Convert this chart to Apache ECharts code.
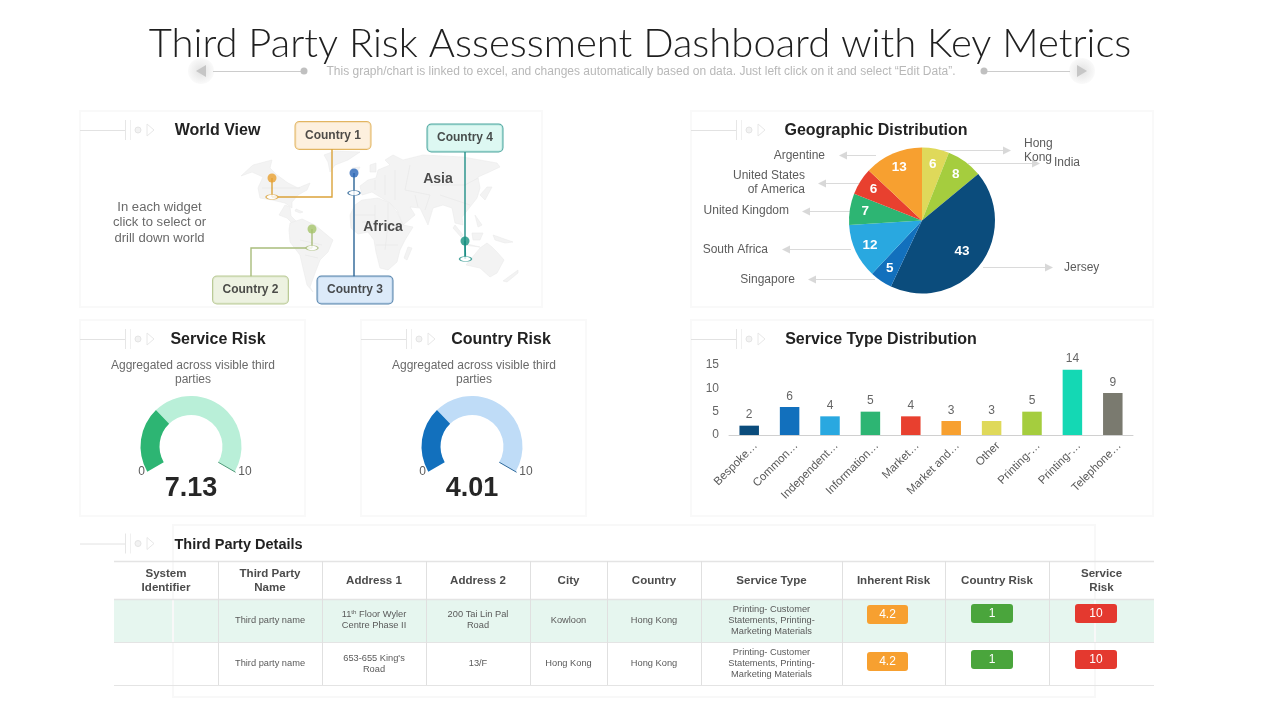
<!DOCTYPE html>
<html>
<head>
<meta charset="utf-8">
<style>html,body{margin:0;padding:0;background:#fff}#c{width:1280px;height:720px}</style>
<script src="https://cdn.jsdelivr.net/npm/echarts@6/dist/echarts.min.js"></script>
</head>
<body>
<div id="c"></div>
<script>
// ---------- DATA ----------
const pieNames = ['Hong Kong','India','Jersey','Singapore','South Africa','United Kingdom','United States of America','Argentine'];
const pieValues = [6,8,43,5,12,7,6,13];
const barCategories = ['Bespoke…','Common…','Independent…','Information…','Market…','Market and…','Other','Printing-…','Printing-…','Telephone…'];
const barValues = [2,6,4,5,4,3,3,5,14,9];
const gaugeNames = ['Service Risk','Country Risk'];
const gaugeValues = [7.13,4.01];
const gaugeFill = [0.317,0.317];
const tableHeaders = ['System\nIdentifier','Third Party\nName','Address 1','Address 2','City','Country','Service Type','Inherent Risk','Country Risk','Service\nRisk'];
const tableRow1 = ['','Third party name','11{s|th} Floor Wyler\nCentre Phase II','200 Tai Lin Pal\nRoad','Kowloon','Hong Kong','Printing- Customer\nStatements, Printing-\nMarketing Materials'];
const tableRow2 = ['','Third party name','653-655 King\'s\nRoad','13/F','Hong Kong','Hong Kong','Printing- Customer\nStatements, Printing-\nMarketing Materials'];
const inherentRisk = ['4.2','4.2'];
const countryRisk = ['1','1'];
const serviceRisk = ['10','10'];
const countryLabels = ['Country 1','Country 2','Country 3','Country 4'];
const regionLabels = ['Asia','Africa'];
// map outlines, in map units
const landOutlines = [
 [[241,176],[253,165],[272,160],[270,168],[277,175],[288,183],[298,188],[310,183],[307,190],[298,195],[292,202],[292,208],[285,203],[272,200],[260,198],[258,188],[263,177],[252,172]],
 [[285,205],[290,207],[291,216],[296,221],[293,224],[287,218],[279,215]],
 [[296,209],[303,212],[300,213],[295,211]],
 [[290,223],[302,219],[315,225],[333,240],[328,252],[320,260],[315,273],[310,287],[313,292],[307,285],[303,268],[300,255],[290,242],[289,230]],
 [[324,155],[335,151],[360,152],[348,160],[335,165],[330,172],[328,162]],
 [[352,168],[360,167],[358,171],[352,171]],
 [[370,165],[376,163],[376,172],[370,172]],
 [[403,160],[423,155],[463,157],[497,163],[500,167],[487,173],[478,177],[480,188],[477,198],[470,207],[462,217],[463,225],[455,223],[452,208],[443,205],[433,208],[428,225],[420,208],[410,207],[415,215],[403,225],[397,210],[390,203],[380,197],[372,192],[362,195],[360,186],[368,180],[376,178],[378,170],[390,165],[385,160],[393,155]],
 [[362,200],[378,198],[390,203],[397,212],[403,225],[413,227],[405,240],[400,250],[397,262],[388,270],[380,268],[376,252],[374,240],[368,232],[358,234],[351,228],[350,215],[355,205]],
 [[408,247],[412,248],[407,260],[404,258]],
 [[466,265],[480,248],[487,243],[492,247],[497,252],[504,260],[497,273],[490,277],[480,268]],
 [[503,281],[518,270],[518,273],[507,282]],
 [[455,225],[463,235],[461,237],[453,228]],
 [[472,233],[483,233],[480,240],[473,240]],
 [[493,235],[513,242],[505,243],[495,240]],
 [[475,215],[482,225],[478,227]],
 [[480,195],[487,187],[492,187],[485,200]],
 [[463,243],[480,247],[480,248],[463,245]]
];
const borderLines = [
 [[355,215],[375,215],[375,205]],[[375,215],[375,232]],[[375,225],[402,225]],[[388,203],[388,225],[385,250]],[[376,245],[398,245]],
 [[362,222],[375,222]],[[385,175],[385,195]],[[395,170],[395,200]],[[410,165],[405,190],[430,195],[425,210]],[[430,185],[465,185],[478,178]],
 [[440,195],[470,205]],[[375,180],[375,190]],[[415,195],[418,207]],[[300,240],[322,245]],[[305,255],[318,258]],[[262,188],[300,188]],[[445,170],[445,185]]
];
const pinHeads = [[272,178],[312,229],[354,173],[465,241]];
const pinBases = [[272,197],[312,248],[354,193],[465.5,259]];
const boxCentres = [[333,135.5],[250.5,290],[355,290],[465,138]];
const connectors = [
 [[332,149],[332,197],[272,197]],
 [[251,277],[251,248],[312,248]],
 [[354,193],[354,277]],
 [[465,152],[465,259]]
];
const regionPoints = [[438,179],[383,227]];

// ---------- STYLE ----------
const FONT = '"Liberation Sans", Arial, sans-serif';
const pieColors = ['#dfd95a','#a5cd3e','#0b4c7c','#1270bd','#29a8e0','#2db573','#e8402f','#f7a030'];
const barColors = ['#0b4c7c','#1270bd','#29a8e0','#2db573','#e8402f','#f7a030','#dfd95a','#a5cd3e','#14d8b4','#7a7a6f'];
const pinColors = ['#e8a030','#a5c46a','#2a66b8','#17917f'];
const lineColors = ['#dba33a','#a9bd7c','#2a6496','#1f8f86'];
const boxFills = ['#fdecd6','#e9efd9','#d3e5f7','#d5f6ef'];
const gaugeDark = ['#2db573','#1270bd'];
const gaugeLight = ['#b9efd8','#bfdcf7'];
const gaugeEdge = ['#4f9a78','#2f6a9c'];
const gaugeCx = [191,472], gaugeCy = 446.5, gaugeR = 50.5, gaugeW = 19;
const colEdges = [114,218,322,426,530,607,701,842,945,1049,1154];

const g = [];
function text(t,x,y,o){ o=o||{};
 g.push({type:'text',x:x,y:y,z:o.z||5,scaleX:o.sx||1,silent:true,style:{text:t,fill:o.c||'#555',
  fontFamily:o.ff||FONT,fontSize:o.s||12,fontWeight:o.w||'normal',align:o.a||'center',verticalAlign:'middle',lineHeight:o.lh,rich:o.rich}});
}
function line(x1,y1,x2,y2,c,w,z){ g.push({type:'line',z:z||2,silent:true,shape:{x1,y1,x2,y2},style:{stroke:c,lineWidth:w||1}}); }
function card(x,y,w,h,z){ g.push({type:'rect',z:z||1,silent:true,shape:{x,y,width:w,height:h},style:{fill:'transparent',stroke:'#f9f9f9',lineWidth:2}}); }
function tri(pts,c){ g.push({type:'polygon',z:3,silent:true,shape:{points:pts},style:{fill:c}}); }
function deco(x,y){
 line(x,y+.5,x+45,y+.5,'#e2e2e2',1,3);
 line(x+45.5,y-10,x+45.5,y+10,'#e6e6e6',1,3); line(x+50.5,y-10,x+50.5,y+10,'#f0f0f0',1,3);
 g.push({type:'circle',z:3,silent:true,shape:{cx:x+58,cy:y,r:3},style:{fill:'#f2f2f2',stroke:'#e4e4e4',lineWidth:1}});
 g.push({type:'polygon',z:3,silent:true,shape:{points:[[x+67,y-6],[x+74,y],[x+67,y+6]]},style:{fill:'#fff',stroke:'#e8e8e8',lineWidth:1}});
}

// header
text('Third Party Risk Assessment Dashboard with Key Metrics',640,44,{s:40,ff:'Lato',w:300,c:'#1f1f1f'});
text('This graph/chart is linked to excel, and changes automatically based on data. Just left click on it and select \u201CEdit Data\u201D.',641,72,{s:12,c:'#b8b8b8'});
[[201,-1,213,304],[1082,1,1070,984]].forEach(d=>{
 g.push({type:'circle',z:2,silent:true,shape:{cx:d[0],cy:71,r:13},style:{fill:{type:'radial',x:.5,y:.5,r:.5,colorStops:[{offset:0,color:'#e2e2e2'},{offset:1,color:'#fafafa'}]}}});
 tri([[d[0]-d[1]*5,65],[d[0]+d[1]*5,71],[d[0]-d[1]*5,77]],'#c6c6c6');
 line(d[2],71.5,d[3],71.5,'#cccccc',1,3);
 g.push({type:'circle',z:3,silent:true,shape:{cx:d[3],cy:71,r:3.5},style:{fill:'#c0c0c0'}});
});

// cards & titles
card(80,111,462,196);card(691,111,462,196);card(80,320,225,196);card(361,320,225,196);card(691,320,462,196);
deco(80,130);deco(691,130);deco(80,339);deco(361,339);deco(691,339);deco(80,543.5);
const T={s:16,w:'bold',c:'#222'};
text('World View',217.5,131,T);text('Geographic Distribution',876,131,T);
text(gaugeNames[0],218,340,T);text(gaugeNames[1],501,340,T);text('Service Type Distribution',881,340,T);
text('Third Party Details',238.5,544.5,{s:14.5,w:'bold',c:'#222'});
text('In each widget\nclick to select or\ndrill down world',159.5,223,{s:12,c:'#6a6a6a',lh:15.5,sx:1.09});

// pie callouts
const callouts = [
 {t:'Hong\nKong',tx:1024,ty:151,a:'left',x1:937,x2:1010,y:150.5,dir:1},
 {t:'India',tx:1054,ty:162.5,a:'left',x1:968,x2:1039,y:163.5,dir:1},
 {t:'Jersey',tx:1064,ty:268,a:'left',x1:983,x2:1052,y:267.5,dir:1},
 {t:'Singapore',tx:795,ty:280,a:'right',x1:875,x2:809,y:279.5,dir:-1},
 {t:'South Africa',tx:768,ty:249.5,a:'right',x1:851,x2:783,y:249.5,dir:-1},
 {t:'United Kingdom',tx:789,ty:211,a:'right',x1:851,x2:803,y:211.5,dir:-1},
 {t:'United States\nof America',tx:805,ty:183,a:'right',x1:860,x2:819,y:183.5,dir:-1},
 {t:'Argentine',tx:825,ty:156,a:'right',x1:876,x2:840,y:155.5,dir:-1}
];
callouts.forEach(c=>{
 text(c.t,c.tx,c.ty,{a:c.a,lh:14,c:'#5c5c5c'});
 line(c.x1,c.y,c.x2,c.y,'#dadada',1);
 tri([[c.x2+c.dir*1,c.y],[c.x2-c.dir*7,c.y-4],[c.x2-c.dir*7,c.y+4]],'#d8d8d8');
});

// gauges annotations
['Aggregated across visible third\nparties','Aggregated across visible third\nparties'].forEach((t,i)=>{
 const cx=gaugeCx[i];
 text(t,cx+2,372.5,{s:12,c:'#6a6a6a',lh:14});
 text('0',cx-49.5,472,{s:12,c:'#5c5c5c'});
 text('10',cx+54,472,{s:12,c:'#5c5c5c'});
 const ca=Math.cos(Math.PI/6),sa=.5;
 line(cx+(gaugeR-gaugeW)*ca,gaugeCy+(gaugeR-gaugeW)*sa,cx+(gaugeR+1)*ca,gaugeCy+(gaugeR+1)*sa,gaugeEdge[i],1,6);
});

// table
const tblZ=2;
g.push({type:'rect',z:0,silent:true,shape:{x:114,y:599,width:1040,height:43},style:{fill:'#e6f6ef'}});
g.push({type:'rect',z:0,silent:true,shape:{x:173,y:525,width:922,height:172},style:{fill:'transparent',stroke:'#f8f8f8',lineWidth:2}});
[561,599,642,685].forEach((y,i)=>line(114,y+.5,1154,y+.5,'#e4e4e4',i<2?1.5:1,tblZ));
colEdges.slice(1,-1).forEach(x=>line(x+.5,561,x+.5,685,'#e0e0e0',1,tblZ));
const centre=i=>(colEdges[i]+colEdges[i+1])/2;
tableHeaders.forEach((h,i)=>text(h,centre(i),581,{s:11,w:'bold',c:'#4c4c4c',lh:14,sx:1.05}));
[tableRow1,tableRow2].forEach((r,ri)=>{
 r.forEach((c,i)=>{ if(c) text(c,centre(i),ri?664:620.5,{s:9,c:'#5a5a5a',lh:11,sx:1.03,rich:{s:{fontSize:6,fill:'#5a5a5a',verticalAlign:'top',lineHeight:11,fontFamily:FONT}}}); });
});
function badge(t,x,y,w,h,c){
 g.push({type:'rect',z:3,silent:true,shape:{x,y,width:w,height:h,r:3},style:{fill:c}});
 text(t,x+w/2,y+h/2,{s:12,c:'#fff',z:4});
}
inherentRisk.forEach((v,i)=>badge(v,867,i?652:605,41,19,'#f7a030'));
countryRisk.forEach((v,i)=>badge(v,971,i?650:604,42,19,'#4aa53c'));
serviceRisk.forEach((v,i)=>badge(v,1075,i?650:604,42,19,'#e4392f'));

// ---------- MAP ----------
echarts.registerMap('world',{type:'FeatureCollection',features:landOutlines.map((p,i)=>({type:'Feature',properties:{name:'land'+i},geometry:{type:'Polygon',coordinates:[p]}}))});
const mapLeft=241,mapTop=151,mapW=277,mapH=141;

const series=[
 {type:'lines',coordinateSystem:'geo',polyline:true,silent:true,z:2,data:borderLines.map(b=>({coords:b})),lineStyle:{color:'#e8e8e8',width:.7,opacity:1}},
 {type:'lines',coordinateSystem:'geo',polyline:true,silent:true,z:3,data:connectors.map((c,i)=>({coords:c,lineStyle:{color:lineColors[i],width:1.4,opacity:1}}))},
 {type:'lines',coordinateSystem:'geo',polyline:true,silent:true,z:3,data:pinHeads.map((h,i)=>({coords:[h,pinBases[i]],lineStyle:{color:lineColors[i],width:1.4,opacity:1}}))},
 {type:'scatter',coordinateSystem:'geo',silent:true,z:4,symbol:'circle',symbolSize:[12,5],
  data:pinBases.map((b,i)=>({value:b,itemStyle:{color:'#ffffff',borderColor:lineColors[i],borderWidth:1}}))},
 {type:'scatter',coordinateSystem:'geo',silent:true,z:5,symbol:'circle',symbolSize:9,
  data:pinHeads.map((h,i)=>({value:h,itemStyle:{color:pinColors[i]}}))},
 {type:'scatter',coordinateSystem:'geo',silent:true,z:6,symbolSize:1,
  data:boxCentres.map((b,i)=>({value:b,itemStyle:{color:'transparent'},label:{backgroundColor:boxFills[i],borderColor:lineColors[i]}})),
  label:{show:true,position:'inside',formatter:p=>countryLabels[p.dataIndex],fontFamily:FONT,fontSize:12,fontWeight:'bold',color:'#222',
   width:75,height:27,lineHeight:27,align:'center',verticalAlign:'middle',borderWidth:1,borderRadius:4}},
 {type:'scatter',coordinateSystem:'geo',silent:true,z:6,symbolSize:1,itemStyle:{color:'transparent'},
  data:regionPoints,label:{show:true,position:'inside',formatter:p=>regionLabels[p.dataIndex],fontFamily:FONT,fontSize:14,fontWeight:'bold',color:'#222'}},
 // pie
 {type:'pie',center:[922,220.5],radius:[0,73],startAngle:90,clockwise:true,silent:true,avoidLabelOverlap:false,
  data:pieNames.map((n,i)=>({name:n,value:pieValues[i],itemStyle:{color:pieColors[i]}})),
  label:{show:true,position:'inside',formatter:'{c}',color:'#fff',fontFamily:FONT,fontSize:13.5,fontWeight:'bold'},
  labelLine:{show:false},
  labelLayout:p=>{
   const total=pieValues.reduce((a,b)=>a+b,0);let s=0;for(let i=0;i<p.dataIndex;i++)s+=pieValues[i];
   const v=pieValues[p.dataIndex],a=(s+v/2)/total*2*Math.PI,d=v>=40?11:18;
   return {dx:d*Math.sin(a),dy:-d*Math.cos(a)};
  }},
 // bars
 {type:'bar',xAxisIndex:0,yAxisIndex:0,barWidth:19.5,silent:true,
  data:barValues.map((v,i)=>({value:v,itemStyle:{color:barColors[i]}})),
  label:{show:true,position:'top',distance:4.5,color:'#666',fontFamily:FONT,fontSize:12}}
];
gaugeValues.forEach((v,i)=>series.push({
 type:'gauge',center:[gaugeCx[i],gaugeCy],radius:gaugeR,startAngle:210,endAngle:-30,min:0,max:10,silent:true,
 axisLine:{lineStyle:{width:gaugeW,color:[[gaugeFill[i],gaugeDark[i]],[1,gaugeLight[i]]]}},
 pointer:{show:false},axisTick:{show:false},splitLine:{show:false},axisLabel:{show:false},title:{show:false},
 detail:{offsetCenter:[0,42],formatter:x=>x.toFixed(2),fontFamily:FONT,fontSize:27,fontWeight:'bold',color:'#262626'},
 data:[{value:v}]
}));

const chart=echarts.init(document.getElementById('c'),null,{renderer:'canvas',width:1280,height:720});
chart.setOption({
 animation:false,backgroundColor:'#ffffff',
 textStyle:{fontFamily:FONT},
 geo:{map:'world',silent:true,roam:false,left:mapLeft,top:mapTop,width:mapW,height:mapH,z:1,
  projection:{project:p=>p,unproject:p=>p},
  label:{show:false},itemStyle:{areaColor:'#f3f3f3',borderColor:'#ebebeb',borderWidth:.6}},
 // the second grid carries only the slanted category labels, set a few pixels to the right of the bars
 grid:[{left:729,top:365,width:404,height:70},{left:735.5,top:365,width:404,height:70}],
 xAxis:[
  {type:'category',gridIndex:0,data:barCategories,axisTick:{show:false},axisLine:{lineStyle:{color:'#d0d0d0'}},axisLabel:{show:false}},
  {type:'category',gridIndex:1,data:barCategories,axisTick:{show:false},axisLine:{show:false},
   axisLabel:{interval:0,rotate:45,color:'#595959',fontSize:11.5,margin:9,fontFamily:FONT,hideOverlap:false}}
 ],
 yAxis:[
  {type:'value',gridIndex:0,min:0,max:15,interval:5,axisLine:{show:false},axisTick:{show:false},splitLine:{show:false},
   axisLabel:{color:'#666',fontSize:12,margin:10,fontFamily:FONT}},
  {type:'value',gridIndex:1,min:0,max:15,interval:5,show:false}
 ],
 series:series,
 graphic:{elements:g}
});
</script>
</body>
</html>
